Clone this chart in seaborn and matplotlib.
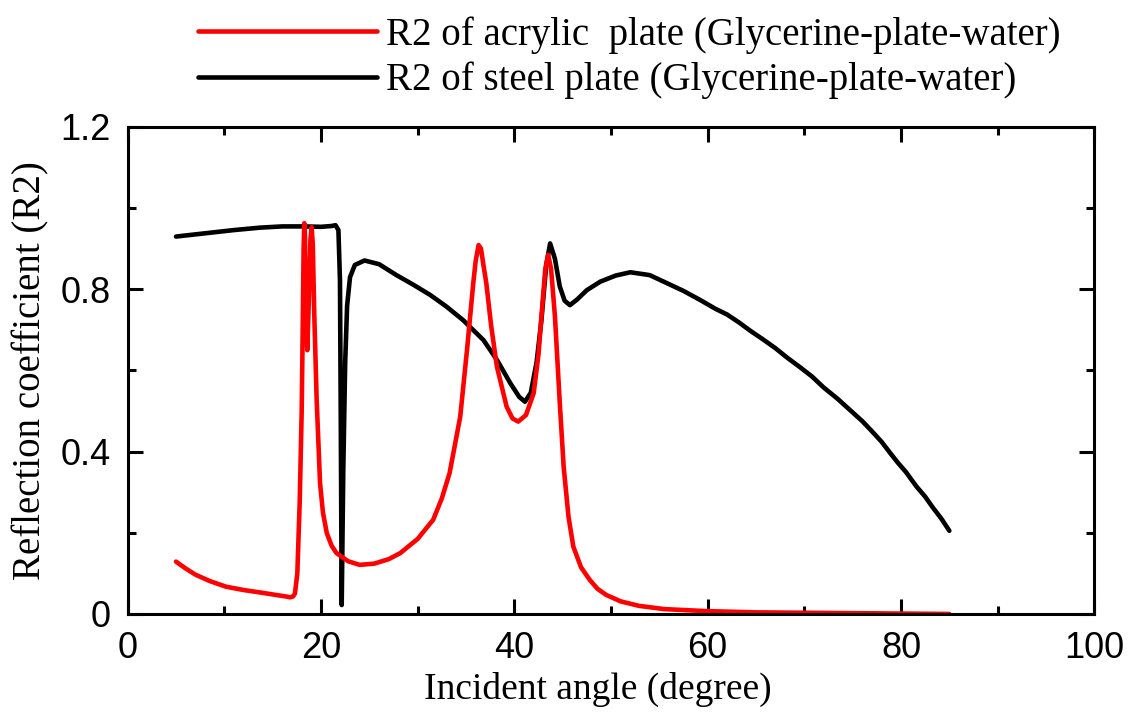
import matplotlib
matplotlib.use("Agg")
import matplotlib.pyplot as plt
import seaborn as sns
import pandas as pd
from matplotlib.ticker import MultipleLocator

# ---- data ----
steel_x = [5, 8, 11, 13.7, 16, 18.2, 20, 21.1, 21.5, 21.8,
           21.96, 22.05, 22.14, 22.3, 22.5, 22.7, 23.0, 23.5, 24.5, 26,
           27.8, 29.5, 31.3, 33, 34.7, 36.8, 38.2, 39.6, 40.5, 41.1,
           41.7, 42.3, 42.8, 43.3, 43.7, 44.2, 44.7, 45.2, 45.75, 46.5,
           47.5, 48.9, 50.5, 52.0, 54, 55.8, 57.5, 59.2, 60.8, 62,
           63.2, 64.4, 65.7, 67, 68.2, 69.5, 70.8, 72, 73.4, 74.7,
           76, 77, 78, 78.9, 79.7, 80.5, 81.6, 82.5, 83.3, 84.2, 85]
steel_y = [.930, .938, .946, .952, .955, .955, .954, .956, .958, .946,
           .823, .45, .022, .35, .62, .76, .83, .86, .871, .862,
           .835, .812, .786, .757, .724, .675, .626, .568, .535, .523,
           .545, .62, .724, .86, .913, .875, .807, .772, .761, .775,
           .798, .819, .834, .842, .835, .815, .796, .774, .752, .738,
           .719, .698, .677, .655, .632, .609, .585, .558, .531, .503,
           .475, .450, .424, .396, .372, .350, .314, .289, .262, .234, .205]

acrylic_x = [5, 6, 7, 8.5, 10.2, 12, 13.7, 15.3, 16.4, 16.8, 17.1, 17.3,
             17.55, 17.8, 18.0, 18.1, 18.2, 18.27, 18.34, 18.42, 18.58, 18.75,
             18.9, 19.03, 19.15, 19.3,
             19.55, 19.9, 20.2, 20.6, 21.1, 21.6, 22.8, 24.0, 25.5, 27, 28.2, 30,
             31.6, 32.5, 33.3, 34.4, 35.1, 35.75, 36.0, 36.3, 36.55, 36.8, 37.1, 37.6,
             38.2, 39.2, 39.8, 40.4, 41.2, 42.0, 42.5, 42.8, 43.2, 43.5, 43.8, 44.2,
             44.7, 45.1, 45.6, 46.1, 46.9, 47.8, 48.6, 49.5, 51, 52.9, 55.5, 59.9,
             65, 70, 75, 80, 85]
acrylic_y = [.129, .112, .097, .081, .067, .059, .053, .047, .043, .041, .043, .05,
             .1, .28, .5, .69, .9, .963, .93, .78, .65, .78,
             .92, .953, .91, .74,
             .527, .322, .25, .199, .168, .15, .13, .121, .124, .135, .15, .185,
             .232, .285, .347, .486, .65, .815, .87, .909, .9, .86, .815, .71,
             .609, .511, .482, .474, .49, .544, .64, .733, .85, .885, .85, .733,
             .52, .363, .24, .166, .115, .084, .062, .047, .031, .020, .012, .007,
             .004, .003, .002, .001, .0]

label_acrylic = "R2 of acrylic  plate (Glycerine-plate-water)"
label_steel = "R2 of steel plate (Glycerine-plate-water)"
x_ticks = [0, 20, 40, 60, 80, 100]
y_ticks = [0, 0.4, 0.8, 1.2]
y_tick_labels = ["0", "0.4", "0.8", "1.2"]

df_steel = pd.DataFrame({"x": steel_x, "y": steel_y})
df_acr = pd.DataFrame({"x": acrylic_x, "y": acrylic_y})

sns.set_style("ticks")
plt.rcParams["text.color"] = "black"
plt.rcParams["xtick.color"] = "black"
plt.rcParams["ytick.color"] = "black"
plt.rcParams["axes.labelcolor"] = "black"
serif = ["Liberation Serif", "DejaVu Serif"]
sans = ["Liberation Sans", "DejaVu Sans"]

fig = plt.figure(figsize=(11.29, 7.15), dpi=100)
ax = fig.add_axes([0.1131, 0.1413, 0.8562, 0.6811])

sns.lineplot(data=df_steel, x="x", y="y", ax=ax, color="black", linewidth=3.3,
             sort=False, estimator=None, label=label_steel)
sns.lineplot(data=df_acr, x="x", y="y", ax=ax, color="#ff0000", linewidth=3.3,
             sort=False, estimator=None, label=label_acrylic)

ax.set_xlim(0, 100)
ax.set_ylim(0, 1.2)
ax.set_xticks(x_ticks)
ax.set_xticklabels([str(t) for t in x_ticks], family=sans, fontsize=26, color="black")
ax.set_yticks(y_ticks)
ax.set_yticklabels(y_tick_labels, family=sans, fontsize=26, color="black")
ax.xaxis.set_minor_locator(MultipleLocator(10))
ax.yaxis.set_minor_locator(MultipleLocator(0.2))
ax.tick_params(which="both", direction="in", top=True, right=True, width=2.2, color="black")
ax.tick_params(which="major", length=11)
ax.tick_params(which="minor", length=6)
ax.tick_params(axis="x", which="major", pad=12)
ax.tick_params(axis="y", which="major", pad=12)
for s in ax.spines.values():
    s.set_linewidth(2.2)
    s.set_color("black")
    s.set_visible(True)

ax.set_xlabel("Incident angle (degree)", family=serif, fontsize=27, color="black")
ax.xaxis.set_label_coords(0.486, -0.118)
ax.set_ylabel("Reflection coefficient (R2)", family=serif, fontsize=28, color="black", labelpad=8)

handles, labels = ax.get_legend_handles_labels()
ax.get_legend().remove()
order = [labels.index(label_acrylic), labels.index(label_steel)]
fig.legend([handles[i] for i in order], [labels[i] for i in order],
           loc="upper left", bbox_to_anchor=(0.151, 1.015), frameon=False,
           prop={"family": serif, "size": 28}, handlelength=4.6,
           handletextpad=0.25, labelspacing=0.2, borderpad=0.2)

fig.savefig("out.png", dpi=100)
